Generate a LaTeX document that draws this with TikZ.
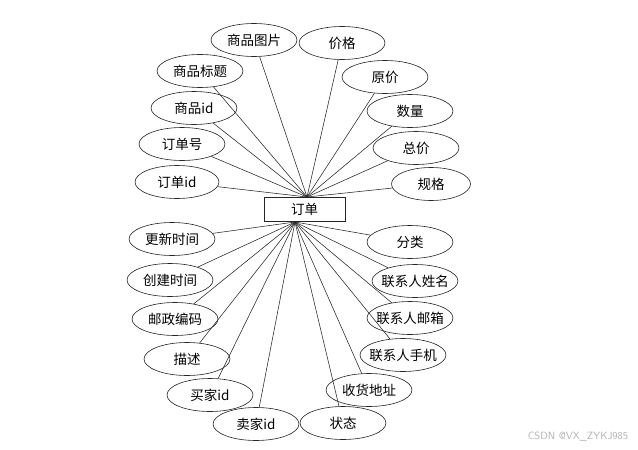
\documentclass[tikz,border=0pt]{standalone}
\usepackage{fontspec}
\setmainfont{Noto Sans CJK SC}
\usetikzlibrary{shapes.geometric}
\begin{document}
\begin{tikzpicture}[x=1pt,y=-1pt,
  attr/.style={ellipse,draw=black!85,line width=0.6pt,minimum width=86pt,minimum height=33pt,inner sep=0pt,font=\fontsize{13.5}{15}\selectfont},
  wide/.style={inner xsep=-4.5pt},
  ent/.style={rectangle,draw=black!85,line width=0.6pt,minimum width=81pt,minimum height=24pt,inner sep=0pt,font=\fontsize{13.5}{15}\selectfont},
  link/.style={draw=black!85,line width=0.55pt}]
\useasboundingbox (0,0) rectangle (638,450);
\fill[white] (0,0) rectangle (638,450);
\node[ent] (order) at (304.5,209.5) {订单};
\coordinate (top) at (307,197);
\coordinate (bot) at (295,222);
% top attributes
\node[attr] (a1) at (254,40) {商品图片};
\node[attr] (a2) at (342,43) {价格};
\node[attr] (a3) at (385,77) {原价};
\node[attr] (a4) at (410,111) {数量};
\node[attr] (a5) at (416,148) {总价};
\node[attr,minimum width=79pt] (a6) at (431,184) {规格};
\node[attr] (a7) at (200,71) {商品标题};
\node[attr] (a8) at (194,108) {商品id};
\node[attr] (a9) at (182,144) {订单号};
\node[attr,minimum width=84pt] (a10) at (177,182) {订单id};
% bottom attributes
\node[attr] (b1) at (172,239) {更新时间};
\node[attr] (b2) at (170,280) {创建时间};
\node[attr] (b3) at (175,319) {邮政编码};
\node[attr] (b4) at (187,359) {描述};
\node[attr] (b5) at (210,395) {买家id};
\node[attr] (b6) at (256,424) {卖家id};
\node[attr] (b7) at (343,423) {状态};
\node[attr] (b8) at (369,390) {收货地址};
\node[attr,wide] (b9) at (403,355) {联系人手机};
\node[attr,wide] (b10) at (410,318) {联系人邮箱};
\node[attr,wide] (b11) at (415,281) {联系人姓名};
\node[attr] (b12) at (410,242) {分类};
\foreach \n in {a1,a2,a3,a4,a5,a6,a7,a8,a9,a10} \draw[link] (top) -- (\n);
\foreach \n in {b1,b2,b3,b4,b5,b6,b7,b8,b9,b10,b11,b12} \draw[link] (bot) -- (\n);
\node[text=black!30,font=\fontsize{10.5}{12}\selectfont\sffamily] (wm) at (578,437) {CSDN @VX\_ZYKJ985};
\end{tikzpicture}
\end{document}
